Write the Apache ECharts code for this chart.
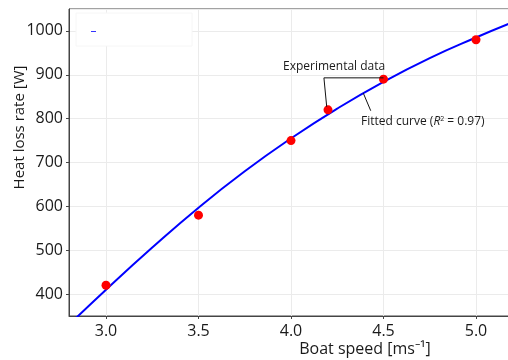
<!DOCTYPE html>
<html>
<head>
<meta charset="utf-8">
<script src="https://cdn.jsdelivr.net/npm/echarts@6/dist/echarts.min.js"></script>
<style>
  html, body { margin: 0; padding: 0; background: #fff; }
  #chart { width: 508px; height: 360px; }
</style>
</head>
<body>
<div id="chart"></div>
<script>
// measured points
const speed = [3.0, 3.5, 4.0, 4.2, 4.5, 5.0]
const heatLoss = [420, 580, 750, 820, 890, 980]

// fitted curve
const fitSpeed = [2.8, 3.0, 3.25, 3.5, 3.75, 4.0, 4.25, 4.5, 4.75, 5.0, 5.2]
const fitHeat = [330, 410, 506, 597, 680, 755, 823, 884, 938, 985, 1020]

// annotation leader lines (data coords)
const bracketLine = [[4.193, 827], [4.178, 893], [4.5, 893]]
const fitLeader = [[4.391, 858], [4.431, 818]]

const FONT = 'Open Sans'
const myChart = echarts.init(document.getElementById('chart'))

const option = {
  animation: false,
  textStyle: { fontFamily: FONT },
  grid: {
    left: 69,
    top: 9,
    right: -5,
    bottom: 44,
    outerBoundsMode: 'none',
    containLabel: false,
    show: true,
    borderColor: '#444',
    borderWidth: 1
  },
  xAxis: {
    type: 'value',
    min: 2.8,
    max: 5.2,
    splitNumber: 5,
    name: 'Boat speed [ms⁻¹]',
    nameLocation: 'middle',
    nameGap: 25,
    nameMoveOverlap: false,
    nameTextStyle: { fontSize: 16, color: '#1a1a1a', padding: [0, 0, 0, 148] },
    axisLine: { lineStyle: { color: '#444' } },
    axisTick: { show: true, length: 3, lineStyle: { color: '#444' } },
    axisLabel: {
      fontSize: 16,
      color: '#1a1a1a',
      margin: 7,
      showMinLabel: false,
      showMaxLabel: false,
      formatter: v => v.toFixed(1)
    },
    splitLine: { show: true, lineStyle: { color: '#ebebeb' } }
  },
  yAxis: {
    type: 'value',
    min: 350,
    max: 1050,
    splitNumber: 7,
    name: 'Heat loss rate [W]',
    nameLocation: 'middle',
    nameGap: 42,
    nameRotate: 90,
    nameMoveOverlap: false,
    nameTextStyle: { fontSize: 15, color: '#1a1a1a', padding: [0, 0, 0, 70] },
    axisLine: { show: true, lineStyle: { color: '#444' } },
    axisTick: { show: true, length: 3, lineStyle: { color: '#444' } },
    axisLabel: {
      fontSize: 16,
      color: '#1a1a1a',
      margin: 6,
      showMinLabel: false,
      showMaxLabel: false,
      formatter: v => String(v)
    },
    splitLine: { show: true, lineStyle: { color: '#ebebeb' } }
  },
  graphic: [
    {
      type: 'rect',
      z: 1,
      shape: { x: 76, y: 13, width: 116, height: 33 },
      style: { fill: '#fff', stroke: '#f6f6f6', lineWidth: 1 }
    },
    {
      type: 'line',
      z: 1,
      shape: { x1: 91, y1: 31.5, x2: 96, y2: 31.5 },
      style: { stroke: '#3333ff', lineWidth: 1 }
    },
    {
      type: 'text',
      z: 10,
      left: 283,
      top: 61,
      style: { text: 'Experimental data', fontSize: 12, fontFamily: FONT, fill: '#1a1a1a' }
    },
    {
      type: 'text',
      z: 10,
      left: 361,
      top: 115,
      style: {
        text: 'Fitted curve ({i|R}{s|2} = 0.97)',
        fontSize: 12,
        fontFamily: FONT,
        fill: '#1a1a1a',
        rich: {
          i: { fontStyle: 'italic', fontSize: 12, fontFamily: FONT, fill: '#1a1a1a' },
          s: { fontSize: 7, fontFamily: FONT, fill: '#1a1a1a', verticalAlign: 'top', padding: [0, 0, 6, 0] }
        }
      }
    }
  ],
  series: [
    {
      type: 'line',
      data: fitSpeed.map((x, i) => [x, fitHeat[i]]),
      smooth: true,
      symbol: 'none',
      lineStyle: { color: '#0000ff', width: 2 },
      z: 3
    },
    {
      type: 'scatter',
      data: speed.map((x, i) => [x, heatLoss[i]]),
      symbolSize: 9,
      itemStyle: { color: '#ff0000', opacity: 1 },
      z: 4
    },
    {
      type: 'line',
      data: bracketLine,
      symbol: 'none',
      silent: true,
      lineStyle: { color: '#111', width: 1 },
      z: 5
    },
    {
      type: 'line',
      data: fitLeader,
      symbol: 'none',
      silent: true,
      lineStyle: { color: '#111', width: 1 },
      z: 5
    }
  ]
}

option && myChart.setOption(option)
</script>
</body>
</html>
